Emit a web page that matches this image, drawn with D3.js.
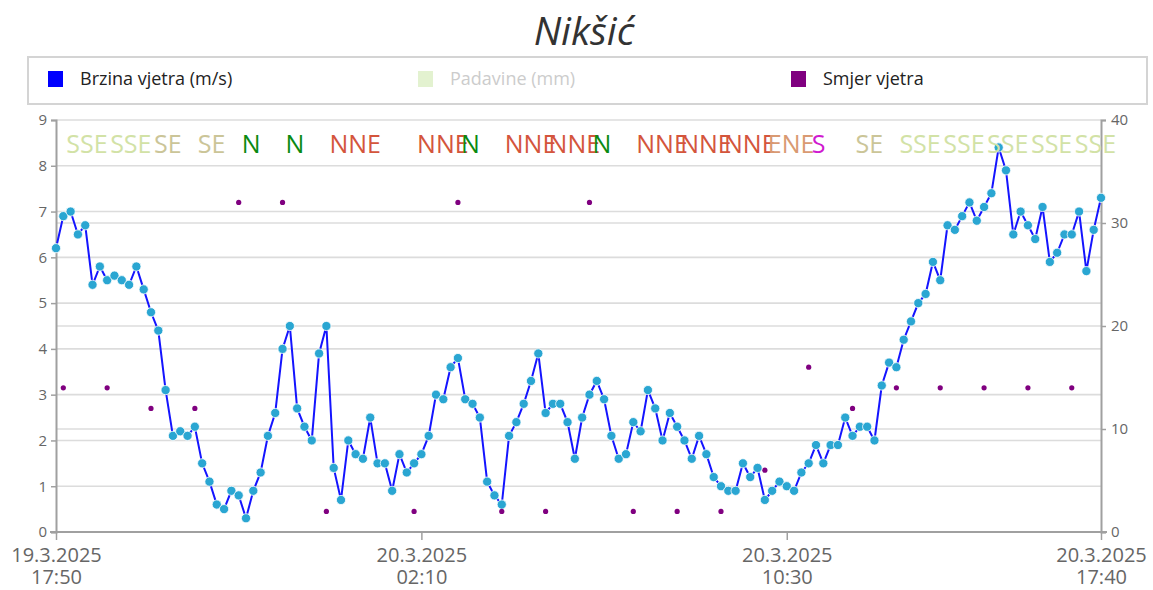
<!DOCTYPE html>
<html>
<head>
<meta charset="utf-8">
<script src="https://cdn.jsdelivr.net/npm/d3@7"></script>
<style>
  body { margin: 0; background: #fff; }
  svg { display: block; font-family: 'Open Sans', sans-serif; }
</style>
</head>
<body>
<div id="chart"></div>
<script>
// wind speed every 10 minutes, 19.3.2025 17:50 -> 20.3.2025 17:40
const speed = [
  6.2, 6.9, 7.0, 6.5, 6.7, 5.4, 5.8, 5.5, 5.6, 5.5,
  5.4, 5.8, 5.3, 4.8, 4.4, 3.1, 2.1, 2.2, 2.1, 2.3,
  1.5, 1.1, 0.6, 0.5, 0.9, 0.8, 0.3, 0.9, 1.3, 2.1,
  2.6, 4.0, 4.5, 2.7, 2.3, 2.0, 3.9, 4.5, 1.4, 0.7,
  2.0, 1.7, 1.6, 2.5, 1.5, 1.5, 0.9, 1.7, 1.3, 1.5,
  1.7, 2.1, 3.0, 2.9, 3.6, 3.8, 2.9, 2.8, 2.5, 1.1,
  0.8, 0.6, 2.1, 2.4, 2.8, 3.3, 3.9, 2.6, 2.8, 2.8,
  2.4, 1.6, 2.5, 3.0, 3.3, 2.9, 2.1, 1.6, 1.7, 2.4,
  2.2, 3.1, 2.7, 2.0, 2.6, 2.3, 2.0, 1.6, 2.1, 1.7,
  1.2, 1.0, 0.9, 0.9, 1.5, 1.2, 1.4, 0.7, 0.9, 1.1,
  1.0, 0.9, 1.3, 1.5, 1.9, 1.5, 1.9, 1.9, 2.5, 2.1,
  2.3, 2.3, 2.0, 3.2, 3.7, 3.6, 4.2, 4.6, 5.0, 5.2,
  5.9, 5.5, 6.7, 6.6, 6.9, 7.2, 6.8, 7.1, 7.4, 8.4,
  7.9, 6.5, 7.0, 6.7, 6.4, 7.1, 5.9, 6.1, 6.5, 6.5,
  7.0, 5.7, 6.6, 7.3
];

// hourly wind direction, from 19.3.2025 18:00 (null = calm / no reading)
const dirLabels = ['SSE', 'SSE', 'SE', 'SE', 'N', 'N', 'NNE', null, 'NNE', 'N', 'NNE', 'NNE',
  'N', 'NNE', 'NNE', 'NNE', 'ENE', 'S', 'SE', 'SSE', 'SSE', 'SSE', 'SSE', 'SSE'];
const dirValues = [14, 14, 12, 12, 32, 32, 2, null, 2, 32, 2, 2,
  32, 2, 2, 2, 6, 16, 12, 14, 14, 14, 14, 14];

const dirColors = { N: '#0a8a12', NNE: '#d4553c', ENE: '#d99a72', S: '#d01ad0', SE: '#cbc598', SSE: '#d2e2a6' };

const xTickLabels = [['19.3.2025', '17:50'], ['20.3.2025', '02:10'], ['20.3.2025', '10:30'], ['20.3.2025', '17:40']];
const leftTicks = [0, 1, 2, 3, 4, 5, 6, 7, 8, 9];
const rightTicks = [0, 10, 20, 30, 40];

const legendItems = [
  { label: 'Brzina vjetra (m/s)', color: '#0000ff', text: '#222', x: 48 },
  { label: 'Padavine (mm)', color: '#e3f2d0', text: '#cccccc', x: 418 },
  { label: 'Smjer vjetra', color: '#800080', text: '#222', x: 791 }
];

const width = 1153, height = 590;
const plot = { left: 56, right: 1101, top: 120, bottom: 532 };

const start = new Date(2025, 2, 19, 17, 50);
const step = 10 * 60 * 1000;
const speedData = speed.map((v, i) => ({ t: new Date(+start + i * step), v }));
const dirData = dirLabels.map((d, i) => ({ t: new Date(+start + (1 + i * 6) * step), label: d, v: dirValues[i] }))
  .filter(d => d.label !== null);

const x = d3.scaleTime()
  .domain([start, speedData[speedData.length - 1].t])
  .range([plot.left, plot.right]);
const yL = d3.scaleLinear().domain([0, 9]).range([plot.bottom, plot.top]);
const yR = d3.scaleLinear().domain([0, 40]).range([plot.bottom, plot.top]);

const xTicks = [0, 50, 100, 143].map(i => speedData[i].t);

const svg = d3.select('#chart').append('svg')
  .attr('width', width)
  .attr('height', height);

// title
svg.append('text')
  .attr('x', 584).attr('y', 45)
  .attr('text-anchor', 'middle')
  .attr('font-size', 39)
  .attr('font-style', 'italic')
  .attr('fill', '#333')
  .text('Nikšić');

// legend
svg.append('rect')
  .attr('x', 28).attr('y', 57).attr('width', 1119).attr('height', 47)
  .attr('fill', '#fff').attr('stroke', '#d4d4d4').attr('stroke-width', 2);
const gLegend = svg.append('g').selectAll('g')
  .data(legendItems)
  .join('g')
  .attr('transform', d => `translate(${d.x},71)`);
gLegend.append('rect')
  .attr('width', 15).attr('height', 16)
  .attr('fill', d => d.color);
gLegend.append('text')
  .attr('x', 32).attr('y', 14)
  .attr('font-size', 18)
  .attr('fill', d => d.text)
  .text(d => d.label);

// grid
const gGrid = svg.append('g')
  .attr('stroke', '#dcdcdc')
  .attr('stroke-width', 1.6);
gGrid.selectAll('line.l')
  .data(leftTicks.slice(1))
  .join('line')
  .attr('class', 'l')
  .attr('x1', plot.left).attr('x2', plot.right)
  .attr('y1', d => yL(d)).attr('y2', d => yL(d));
gGrid.selectAll('line.r')
  .data(rightTicks.slice(1, -1))
  .join('line')
  .attr('class', 'r')
  .attr('x1', plot.left).attr('x2', plot.right)
  .attr('y1', d => yR(d)).attr('y2', d => yR(d));

// axes
const axisColor = '#a0a0a0';
const tickText = '#666';

const leftAxis = svg.append('g')
  .attr('transform', `translate(${plot.left},0)`)
  .call(d3.axisLeft(yL).tickValues(leftTicks).tickSize(5).tickPadding(4));
const rightAxis = svg.append('g')
  .attr('transform', `translate(${plot.right},0)`)
  .call(d3.axisRight(yR).tickValues(rightTicks).tickSize(5).tickPadding(5));
const bottomAxis = svg.append('g')
  .attr('transform', `translate(0,${plot.bottom})`)
  .call(d3.axisBottom(x).tickValues(xTicks).tickSize(8).tickFormat(() => ''));

[leftAxis, rightAxis, bottomAxis].forEach(a => {
  a.select('.domain').attr('stroke', axisColor).attr('stroke-width', 2);
  a.selectAll('.tick line').attr('stroke', axisColor).attr('stroke-width', 1.5);
  a.selectAll('.tick text').attr('fill', tickText).attr('font-size', 15)
    .attr('font-family', "'Open Sans', sans-serif");
});
bottomAxis.select('.domain').attr('d', `M${plot.left - 6},0H${plot.right + 6}`);

bottomAxis.selectAll('.tick').each(function (d, i) {
  const t = d3.select(this).select('text').attr('y', 0).attr('dy', null)
    .attr('font-size', 20);
  t.selectAll('tspan')
    .data(xTickLabels[i])
    .join('tspan')
    .attr('x', 0)
    .attr('y', (s, j) => 30 + j * 22)
    .text(s => s);
});

// wind speed line
svg.append('path')
  .datum(speedData)
  .attr('fill', 'none')
  .attr('stroke', '#1414ff')
  .attr('stroke-width', 2)
  .attr('d', d3.line().x(d => x(d.t)).y(d => yL(d.v)));

svg.append('g')
  .selectAll('circle')
  .data(speedData)
  .join('circle')
  .attr('cx', d => x(d.t))
  .attr('cy', d => yL(d.v))
  .attr('r', 4.6)
  .attr('fill', '#2aa6d2')
  .attr('stroke', '#fff')
  .attr('stroke-width', 0.8);

// wind direction dots and labels
svg.append('g')
  .selectAll('circle')
  .data(dirData)
  .join('circle')
  .attr('cx', d => x(d.t))
  .attr('cy', d => yR(d.v))
  .attr('r', 2.6)
  .attr('fill', '#800080');

svg.append('g')
  .attr('font-size', 25)
  .selectAll('text')
  .data(dirData)
  .join('text')
  .attr('x', d => x(d.t) + 3)
  .attr('y', 153)
  .attr('fill', d => dirColors[d.label])
  .text(d => d.label);
</script>
</body>
</html>
